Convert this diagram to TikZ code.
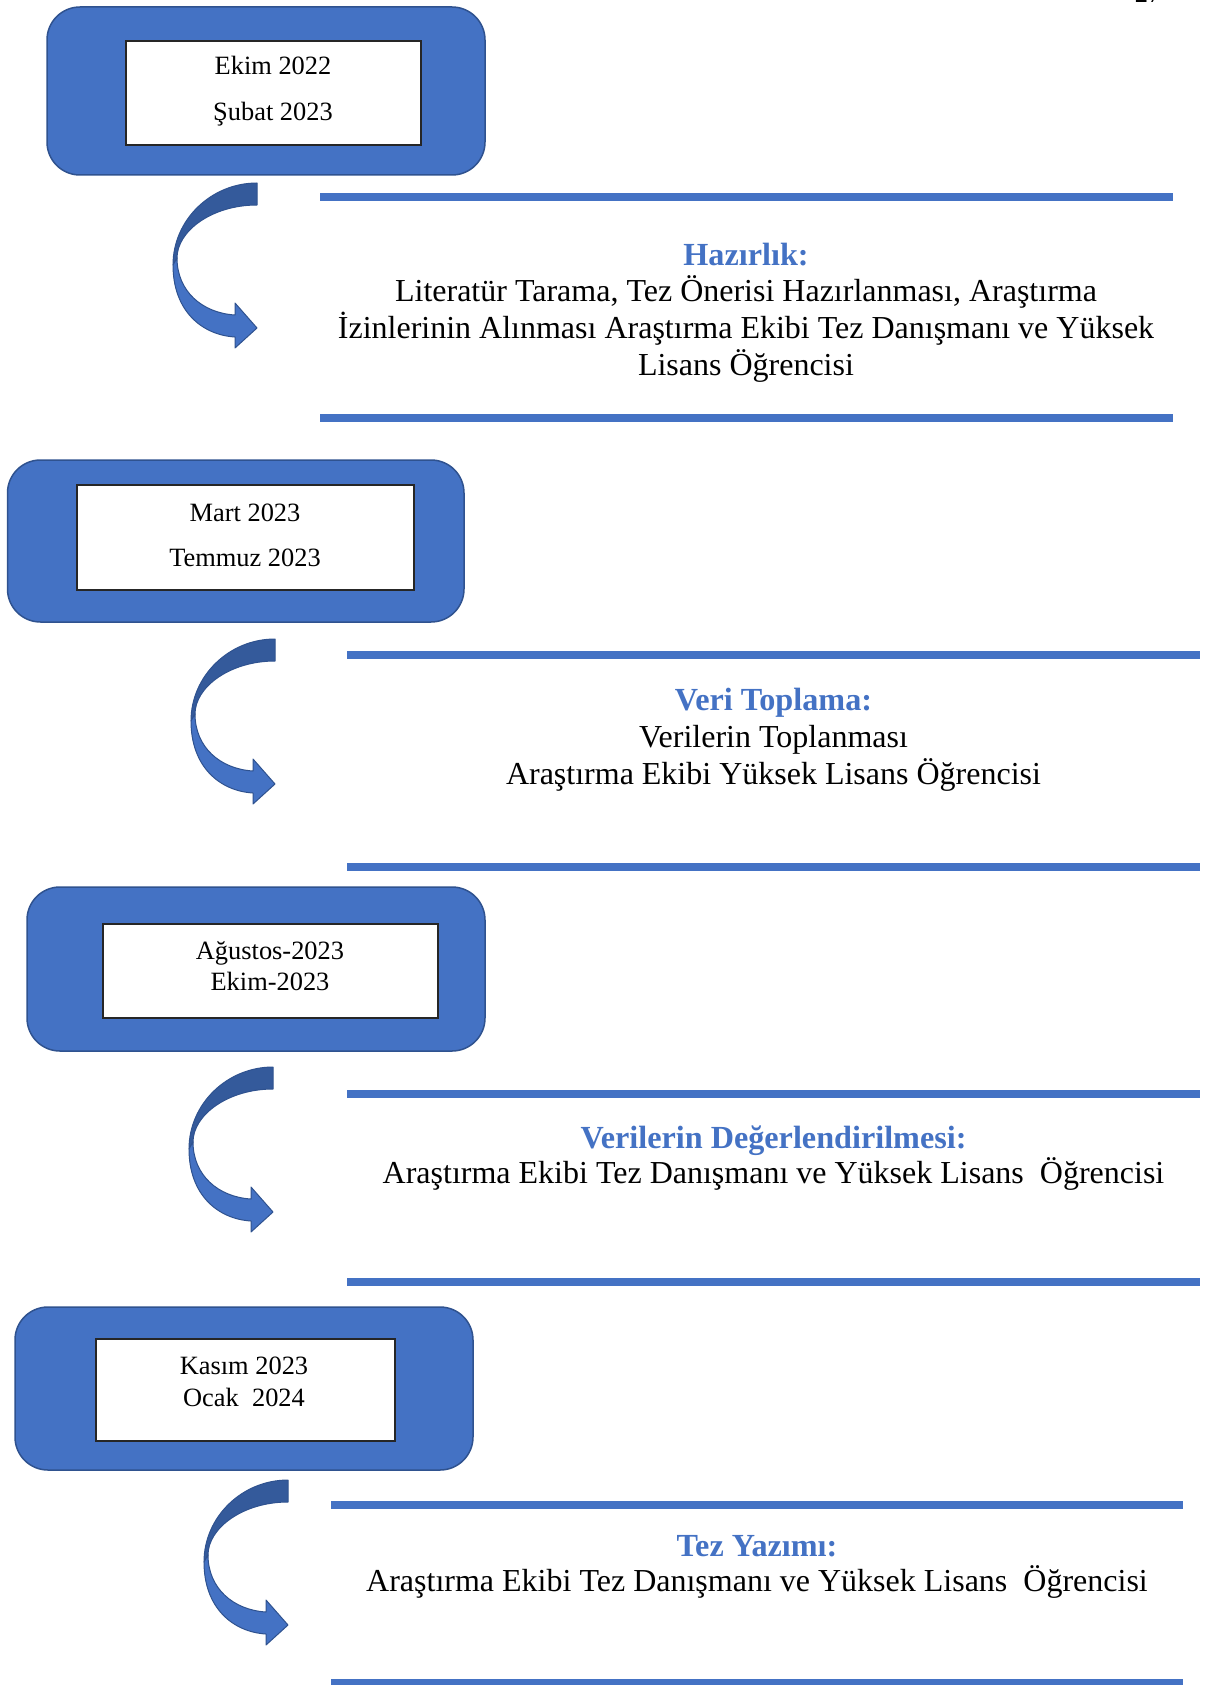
\documentclass[tikz,border=0pt]{standalone}
\usepackage{fontspec}
\setmainfont{Liberation Serif}
\definecolor{accent}{HTML}{4472C4}
\definecolor{accentdark}{HTML}{2F528F}
\definecolor{arrowdark}{RGB}{52,90,155}
\tikzset{
  bluebox/.style={fill=accent,draw=accentdark,line width=0.75pt,rounded corners=16.5pt},
  whitebox/.style={fill=white,draw=black!85,line width=0.65pt},
  boxtext/.style={font=\fontsize{13.2pt}{15.8pt}\selectfont,anchor=base,inner sep=0pt},
  headtext/.style={font=\fontsize{16.1pt}{18.4pt}\selectfont\bfseries,text=accent,anchor=base,inner sep=0pt},
  bodytext/.style={font=\fontsize{16pt}{18.35pt}\selectfont,align=center,anchor=base,inner sep=0pt},
  sepline/.style={draw=accent,line width=4pt},
  arrdark/.style={fill=arrowdark,draw=accentdark,line width=0.5pt,line join=round},
  arrlight/.style={fill=accent,draw=accentdark,line width=0.5pt,line join=round},
  curvarrow/.pic={
    \filldraw[arrdark] (0,0) .. controls (-46,0) and (-84,37) .. (-84,82)
      -- (-80,75) .. controls (-80,48) and (-45,22) .. (0,22) -- cycle;
    \filldraw[arrlight] (-84,82) .. controls (-84,128) and (-55,152) .. (-22,154)
      -- (-22,165) -- (0,145) -- (-22,120) -- (-22,132)
      .. controls (-55,130) and (-80,108) .. (-80,75) -- cycle;
  }
}
\begin{document}
\begin{tikzpicture}[x=0.5pt,y=-0.5pt]
\useasboundingbox (0,0) rectangle (1206,1685);
\fill[white] (0,0) rectangle (1206,1685);

% page number (cropped at the top edge)
\node[boxtext] (pagenum) at (1148,3) {27};

% ---- Box 1
\draw[bluebox] (47,7) rectangle (485,175);
\draw[whitebox] (126,41) rectangle (421,145);
\node[boxtext] (d1a) at (273,75) {Ekim 2022};
\node[boxtext] (d1b) at (273,121) {Şubat 2023};
\pic at (257,183) {curvarrow};
\draw[sepline] (320,197.5) -- (1173,197.5);
\draw[sepline] (320,418) -- (1173,418);
\node[headtext] (h1) at (746,265) {Hazırlık:};
\node[bodytext] (b1) at (746,375) {Literatür Tarama, Tez Önerisi Hazırlanması, Araştırma\\İzinlerinin Alınması Araştırma Ekibi Tez Danışmanı ve Yüksek\\Lisans Öğrencisi};

% ---- Box 2
\draw[bluebox] (7.5,460) rectangle (464,622);
\draw[whitebox] (77,485) rectangle (414,590);
\node[boxtext] (d2a) at (245,521) {Mart 2023};
\node[boxtext] (d2b) at (245,566) {Temmuz 2023};
\pic at (275,639) {curvarrow};
\draw[sepline] (347,654.5) -- (1200,654.5);
\draw[sepline] (347,867) -- (1200,867);
\node[headtext] (h2) at (773.5,710) {Veri Toplama:};
\node[bodytext] (b2) at (773.5,784) {Verilerin Toplanması\\Araştırma Ekibi Yüksek Lisans Öğrencisi};

% ---- Box 3
\draw[bluebox] (27,887) rectangle (485,1051);
\draw[whitebox] (103,924) rectangle (438,1018);
\node[boxtext] (d3a) at (270,959) {Ağustos-2023};
\node[boxtext] (d3b) at (270,990) {Ekim-2023};
\pic at (273,1067) {curvarrow};
\draw[sepline] (347,1094.3) -- (1200,1094.3);
\draw[sepline] (347,1282) -- (1200,1282);
\node[headtext] (h3) at (773.5,1148) {Verilerin Değerlendirilmesi:};
\node[bodytext] (b3) at (773.5,1183) {Araştırma Ekibi Tez Danışmanı ve Yüksek Lisans\ \ Öğrencisi};

% ---- Box 4
\draw[bluebox] (15,1307) rectangle (473,1470);
\draw[whitebox] (96,1339) rectangle (395,1441);
\node[boxtext] (d4a) at (244,1374) {Kasım 2023};
\node[boxtext] (d4b) at (244,1406) {Ocak\ \ 2024};
\pic at (288,1480) {curvarrow};
\draw[sepline] (331,1504.5) -- (1183,1504.5);
\draw[sepline] (331,1683) -- (1183,1683);
\node[headtext] (h4) at (757,1556) {Tez Yazımı:};
\node[bodytext] (b4) at (757,1591) {Araştırma Ekibi Tez Danışmanı ve Yüksek Lisans\ \ Öğrencisi};
\end{tikzpicture}
\end{document}
